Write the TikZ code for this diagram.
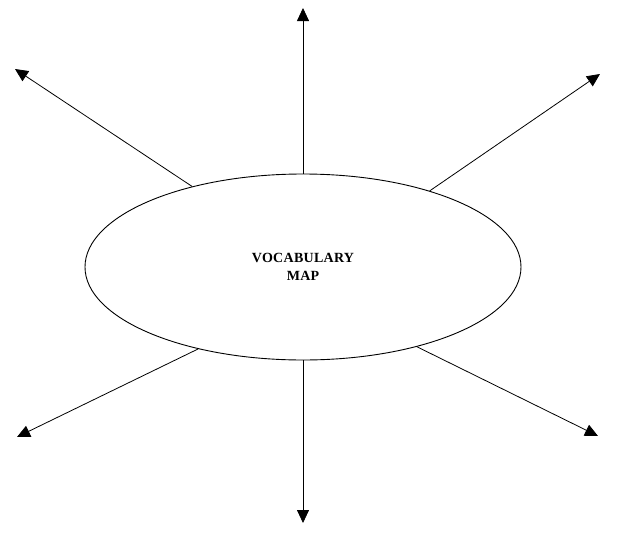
\documentclass[tikz,border=0pt]{standalone}
\usepackage{fontspec}
\setmainfont{Liberation Serif}
\newfontfamily\lblfont[LetterSpace=2]{Liberation Serif}
\usetikzlibrary{shapes.geometric,arrows.meta}
\begin{document}
\begin{tikzpicture}[x=1pt,y=-1pt,
  conn/.style={line width=0.8pt,-{Triangle[length=13pt,width=12pt]}},
  mapbox/.style={ellipse,draw,line width=0.9pt,minimum width=436pt,minimum height=186pt,inner sep=0pt,align=center,
    font=\lblfont\bfseries\fontsize{14}{18}\selectfont}]
\useasboundingbox (0,0) rectangle (619,546);
\node[mapbox] (e) at (303,267) {VOCABULARY\\MAP};
\coordinate (tN) at (303,8);
\coordinate (tS) at (303,523);
\coordinate (tNW) at (15,69);
\coordinate (tNE) at (600,74);
\coordinate (tSW) at (17,437);
\coordinate (tSE) at (598,436);
\draw[conn] (e.90) -- (tN);
\draw[conn] (e.270) -- (tS);
\draw[conn] (e.144.8) -- (tNW);
\draw[conn] (e.31.4) -- (tNE);
\draw[conn] (e.218.5) -- (tSW);
\draw[conn] (e.325.5) -- (tSE);
\end{tikzpicture}
\end{document}
